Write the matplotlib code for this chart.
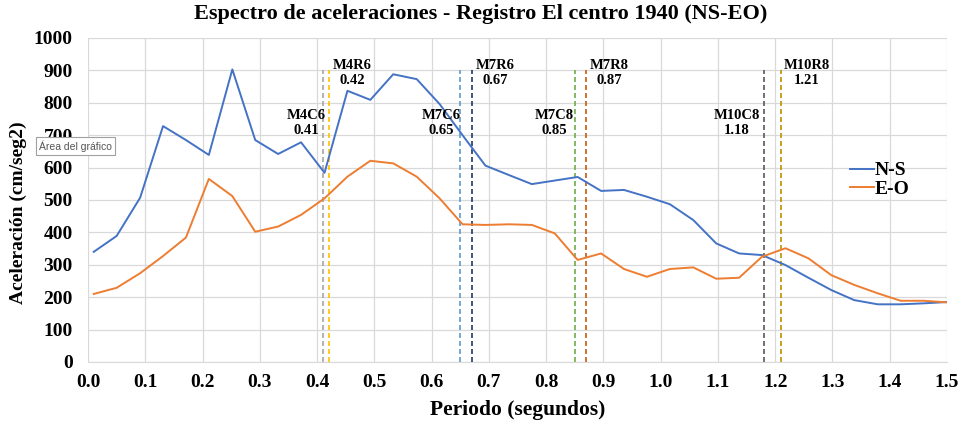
import matplotlib
matplotlib.use("Agg")
import matplotlib.pyplot as plt

# Periodo (s) and spectral accelerations (cm/seg2)
periods = [0.010, 0.050, 0.091, 0.131, 0.171, 0.211, 0.252, 0.292, 0.332, 0.372,
           0.413, 0.453, 0.493, 0.533, 0.574, 0.614, 0.654, 0.694, 0.735, 0.775,
           0.815, 0.855, 0.896, 0.936, 0.976, 1.016, 1.057, 1.097, 1.137, 1.177,
           1.218, 1.258, 1.298, 1.338, 1.379, 1.419, 1.459, 1.500]
ns_acc = [340, 389, 507, 728, 685, 639, 903, 685, 642, 678,
          584, 837, 809, 888, 873, 796, 700, 606, 577, 549,
          560, 571, 528, 531, 510, 487, 438, 366, 335, 330,
          299, 260, 222, 191, 178, 178, 181, 185]
eo_acc = [210, 229, 274, 327, 384, 565, 512, 402, 418, 454,
          505, 572, 621, 613, 572, 505, 425, 423, 425, 423,
          397, 315, 335, 287, 263, 287, 292, 257, 260, 325,
          351, 320, 268, 238, 212, 189, 189, 184]

# model periods (vertical markers)
model_names = ["M4C6", "M4R6", "M7C6", "M7R6", "M7C8", "M7R8", "M10C8", "M10R8"]
model_periods = [0.41, 0.42, 0.65, 0.67, 0.85, 0.87, 1.18, 1.21]
model_colors = ["#A5A5A5", "#FFC000", "#5B9BD5", "#203864",
                "#70AD47", "#C55A11", "#595959", "#BF9000"]
label_x = [0.381, 0.461, 0.616, 0.711, 0.815, 0.910, 1.133, 1.255]
label_y = [738, 892, 738, 892, 738, 892, 738, 892]

SERIF = "Liberation Serif"

fig = plt.figure(figsize=(9.62, 4.22), dpi=100)
ax = fig.add_axes([0.0915, 0.1422, 0.8929, 0.7678])

ax.plot(periods, ns_acc, color="#4472C4", lw=1.4, label="N-S", zorder=3)
ax.plot(periods, eo_acc, color="#ED7D31", lw=1.4, label="E-O", zorder=3)

for name, p, c, lx, ly in zip(model_names, model_periods, model_colors, label_x, label_y):
    ax.plot([p, p], [0, 900], color=c, lw=1.2, ls=(0, (3, 1.8)), zorder=2)
    ax.text(lx, ly, f"{name}\n{p:.2f}", ha="center", va="center", fontsize=10.5,
            fontweight="bold", family=SERIF, linespacing=1.15, zorder=4)

ax.set_xlim(0, 1.5)
ax.set_ylim(0, 1000)
ax.set_xticks([i / 10 for i in range(16)])
ax.set_yticks(range(0, 1001, 100))
ax.set_xticklabels([f"{i / 10:.1f}" for i in range(16)])
ax.grid(True, color="#D9D9D9", lw=0.9)
ax.set_axisbelow(True)
for s in ["top", "right", "left"]:
    ax.spines[s].set_visible(False)
ax.spines["bottom"].set_color("#D9D9D9")
ax.tick_params(axis="x", length=0, pad=9)
ax.tick_params(axis="y", length=0, pad=11)
for lab in ax.get_xticklabels() + ax.get_yticklabels():
    lab.set_fontfamily(SERIF)
    lab.set_fontweight("bold")
    lab.set_fontsize(14)

ax.set_xlabel("Periodo (segundos)", family=SERIF, fontweight="bold", fontsize=15.5, labelpad=6)
ax.set_ylabel("Aceleración (cm/seg2)", family=SERIF, fontweight="bold", fontsize=14)
ax.yaxis.set_label_coords(-0.071, 0.46)
fig.suptitle("Espectro de aceleraciones - Registro El centro 1940 (NS-EO)", family=SERIF,
             fontweight="bold", fontsize=16, y=0.99)

leg = ax.legend(loc="upper left", bbox_to_anchor=(0.867, 0.672), frameon=False,
                prop={"family": SERIF, "weight": "bold", "size": 14},
                handlelength=1.2, handletextpad=0.05, labelspacing=0.05)

fig.text(0.041, 0.654, "Área del gráfico", fontsize=7.5, color="#555555", family="Liberation Sans",
         va="center", ha="left", zorder=10,
         bbox=dict(boxstyle="square,pad=0.3", fc="white", ec="#A0A0A0", lw=0.8))

fig.savefig("out.png", dpi=100)
